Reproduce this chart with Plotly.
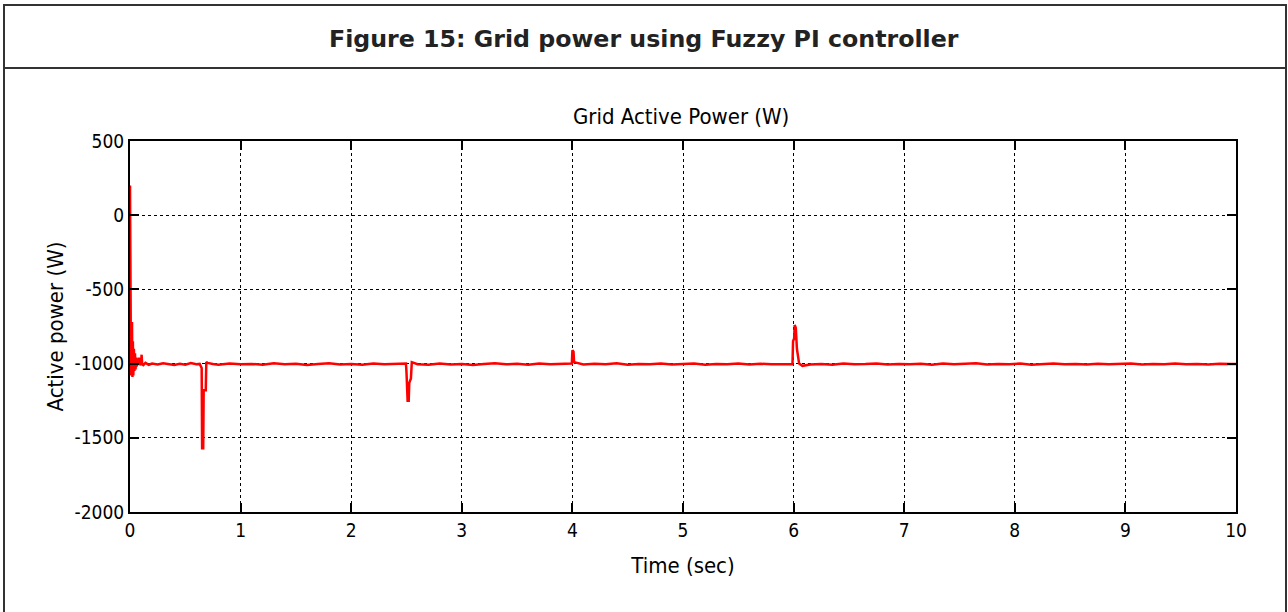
import plotly.graph_objects as go

# ---- data ----
time_s = [
    0.000, 0.003, 0.006, 0.009, 0.012, 0.015, 0.018, 0.022, 0.026, 0.030,
    0.035, 0.040, 0.045, 0.050, 0.055, 0.060, 0.065, 0.070, 0.080, 0.090,
    0.100, 0.105, 0.110, 0.120, 0.140, 0.170, 0.200, 0.250, 0.300, 0.350,
    0.400, 0.450, 0.500, 0.550, 0.600, 0.630, 0.640, 0.648, 0.652, 0.662,
    0.666, 0.685, 0.690, 0.700, 0.750, 0.800, 0.900, 1.000, 1.100, 1.200,
    1.300, 1.400, 1.500, 1.600, 1.700, 1.800, 1.900, 2.000, 2.100, 2.200,
    2.300, 2.400, 2.495, 2.500, 2.505, 2.510, 2.520, 2.525, 2.540, 2.548,
    2.600, 2.700, 2.800, 2.900, 3.000, 3.100, 3.200, 3.300, 3.400, 3.500,
    3.600, 3.700, 3.800, 3.900, 3.995, 4.000, 4.010, 4.015, 4.100, 4.200,
    4.300, 4.400, 4.500, 4.600, 4.700, 4.800, 4.900, 5.000, 5.100, 5.200,
    5.300, 5.400, 5.500, 5.600, 5.700, 5.800, 5.900, 5.990, 5.995, 6.005,
    6.010, 6.020, 6.030, 6.040, 6.050, 6.080, 6.150, 6.250, 6.350, 6.450,
    6.550, 6.650, 6.750, 6.850, 6.950, 7.050, 7.150, 7.250, 7.350, 7.450,
    7.550, 7.650, 7.750, 7.850, 7.950, 8.050, 8.150, 8.250, 8.350, 8.450,
    8.550, 8.650, 8.750, 8.850, 8.950, 9.050, 9.150, 9.250, 9.350, 9.450,
    9.550, 9.650, 9.750, 9.850, 9.950, 10.000,
]
power_w = [
    200, -500, -820, -1080, -760, -1060, -720, -1090, -850, -1080,
    -900, -1050, -930, -1040, -960, -1020, -980, -1010, -960, -1010,
    -1000, -940, -1005, -1010, -995, -1008, -1000, -1006, -998, -1004,
    -1009, -1001, -1007, -997, -1005, -1002, -1020, -1030, -1570, -1570,
    -1180, -1180, -990, -995, -1003, -1008, -999, -1005, -1002, -1007,
    -998, -1004, -1001, -1009, -1003, -997, -1006, -1002, -1008, -999,
    -1005, -1003, -1000, -1060, -1150, -1250, -1250, -1130, -1100, -990,
    -1004, -1007, -1000, -1006, -1002, -1009, -1003, -998, -1005, -1001,
    -1007, -999, -1004, -1002, -1000, -910, -920, -990, -1006, -1001,
    -1005, -998, -1007, -1002, -1004, -999, -1006, -1003, -1000, -1008,
    -1002, -1005, -999, -1006, -1001, -1004, -1003, -1005, -850, -830,
    -740, -760, -900, -970, -1000, -1015, -1006, -1002, -1008, -1000,
    -1005, -1003, -999, -1006, -1002, -1004, -1001, -1007, -1000, -1005,
    -1003, -998, -1006, -1002, -1004, -1000, -1007, -1003, -999, -1005,
    -1002, -1006, -1001, -1004, -1003, -999, -1006, -1002, -1005, -1000,
    -1004, -1002, -1006, -1001, -1003, -1002,
]

x_ticks = [0, 1, 2, 3, 4, 5, 6, 7, 8, 9, 10]
y_ticks = [500, 0, -500, -1000, -1500, -2000]

header_title = "<b>Figure 15: Grid power using Fuzzy PI controller</b>"
chart_title = "Grid Active Power (W)"
x_label = "Time (sec)"
y_label = "Active power (W)"

MFONT = "DejaVu Sans Condensed, Liberation Sans Narrow, Arial, sans-serif"

fig = go.Figure()
fig.add_trace(go.Scatter(
    x=time_s, y=power_w, mode="lines",
    line=dict(color="#ff0000", width=2.5),
    showlegend=False, hoverinfo="x+y",
))

W, H = 1288, 612
L, R, T, B = 130, 52, 141, 100
pw, ph = W - L - R, H - T - B

def px_x(x):
    return (x - L) / pw

def px_y(y):
    return (H - B - y) / ph

axis_common = dict(
    showline=True, linecolor="#000000", linewidth=2, mirror="ticks",
    ticks="inside", ticklen=9, tickwidth=2, tickcolor="#000000",
    showgrid=True, gridcolor="#000000", gridwidth=1, griddash="dot",
    zeroline=False,
    tickfont=dict(family=MFONT, size=19, color="#000000"),
    title_font=dict(family=MFONT, size=22, color="#000000"),
)

fig.update_layout(
    width=W, height=H,
    margin=dict(l=L, r=R, t=T, b=B, pad=0),
    paper_bgcolor="#ffffff", plot_bgcolor="#ffffff",
    xaxis=dict(range=[0, 10], tickvals=x_ticks, ticktext=[str(v) for v in x_ticks],
               title=dict(text=x_label, standoff=18), **axis_common),
    yaxis=dict(range=[-2000, 500], tickvals=y_ticks, ticktext=[str(v) for v in y_ticks],
               title=dict(text=y_label, standoff=5), **axis_common),
    shapes=[
        dict(type="rect", xref="paper", yref="paper",
             x0=px_x(4), x1=px_x(1286), y0=px_y(616), y1=px_y(5),
             line=dict(color="#333333", width=2), fillcolor="rgba(0,0,0,0)", layer="below"),
        dict(type="line", xref="paper", yref="paper",
             x0=px_x(4), x1=px_x(1286), y0=px_y(68), y1=px_y(68),
             line=dict(color="#333333", width=2)),
    ],
    annotations=[
        dict(text=header_title, xref="paper", yref="paper",
             x=px_x(644), y=px_y(39), xanchor="center", yanchor="middle",
             showarrow=False, font=dict(family="DejaVu Sans, Verdana, sans-serif", size=23.7, color="#222222")),
        dict(text=chart_title, xref="paper", yref="paper",
             x=px_x(681), y=px_y(116), xanchor="center", yanchor="middle",
             showarrow=False, font=dict(family=MFONT, size=22, color="#000000")),
    ],
)

fig.write_html("out.html", config={"displayModeBar": False},
               post_script="document.body.style.margin='0px';")
